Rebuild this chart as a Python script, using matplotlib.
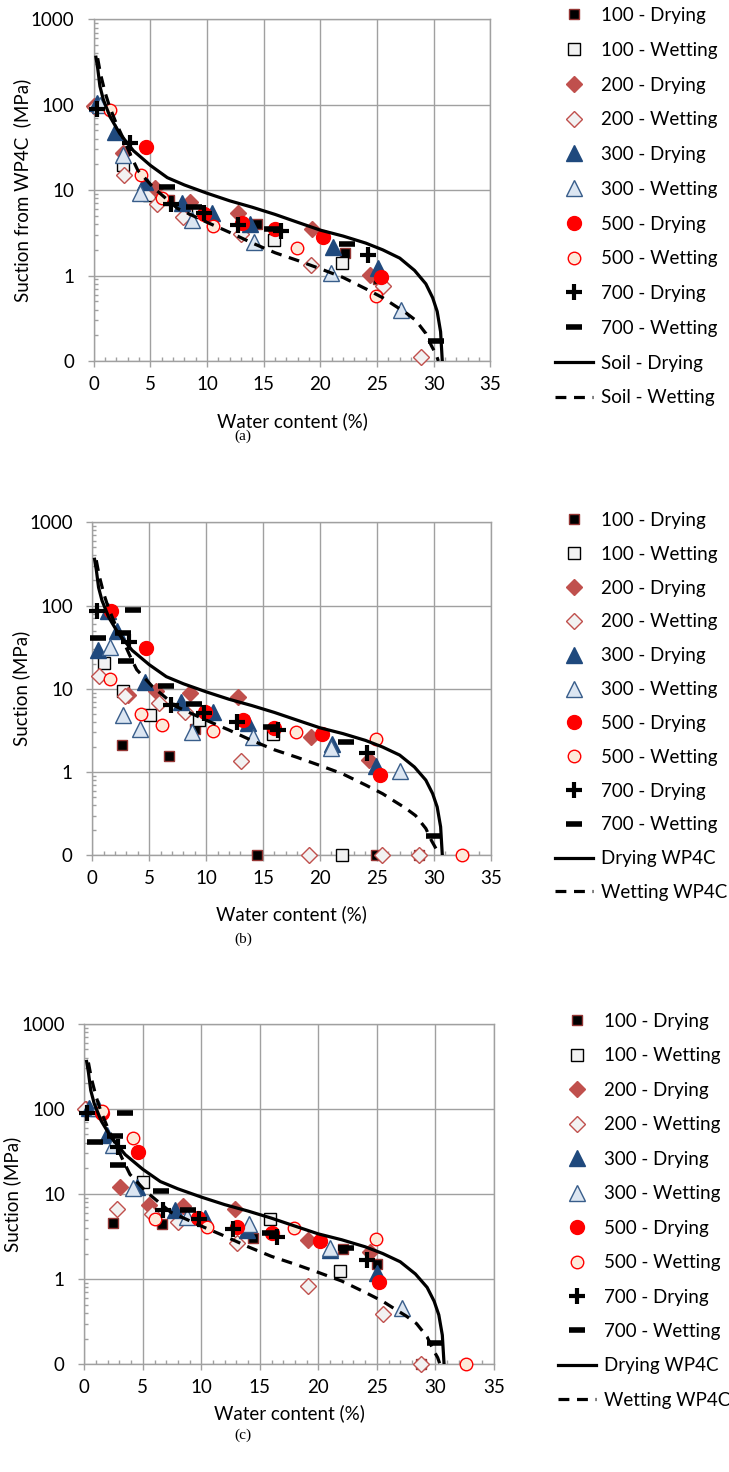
import matplotlib
matplotlib.use("Agg")
import matplotlib.pyplot as plt
from matplotlib.ticker import FixedLocator, LogLocator, FuncFormatter, NullFormatter, MultipleLocator

plt.rcParams['font.family'] = ['Lato', 'DejaVu Sans']

# ---- WP4C reference curves for the soil ----
soil_dry_w = [0.2, 0.35, 0.55, 0.85, 1.45, 2.3, 3.5, 5.0, 6.5, 8.0, 10.0, 12.0, 14.0, 16.0,
              18.0, 20.0, 22.0, 24.0, 25.5, 27.0, 28.3, 29.3, 29.9, 30.3, 30.6, 30.75]
soil_dry_s = [360, 270, 165, 115, 72, 46, 29, 19.5, 14, 11.5, 9.2, 7.5, 6.3, 5.2,
              4.2, 3.4, 2.9, 2.4, 2.0, 1.6, 1.15, 0.8, 0.55, 0.38, 0.22, 0.1]
soil_wet_w = [0.35, 0.6, 1.0, 1.4, 2.0, 2.7, 3.3, 3.9, 5.3, 7.4, 10.0, 12.0, 14.0, 16.0,
              18.0, 20.0, 22.0, 24.0, 25.5, 26.5, 27.5, 28.4, 29.3, 29.8, 30.2, 30.4]
soil_wet_s = [350, 230, 140, 95, 60, 38, 25, 17, 10.6, 6.1, 4.2, 3.2, 2.4, 1.85,
              1.5, 1.2, 0.95, 0.7, 0.55, 0.45, 0.37, 0.3, 0.21, 0.15, 0.12, 0.1]

series_names = ["100 - Drying", "100 - Wetting", "200 - Drying", "200 - Wetting",
                "300 - Drying", "300 - Wetting", "500 - Drying", "500 - Wetting",
                "700 - Drying", "700 - Wetting"]

# ---- Panel (a): suction from WP4C ----
a_100_dry_w = [6.6, 14.45, 22.13, 25.1]
a_100_dry_s = [7.6, 4.0, 1.86, 0.9]
a_100_wet_w = [2.57, 4.84, 9.2, 15.87, 21.92]
a_100_wet_s = [19.8, 8.8, 5.5, 2.6, 1.4]
a_200_dry_w = [0.05, 2.6, 5.4, 8.5, 12.7, 19.24, 24.35]
a_200_dry_s = [97, 27, 10.5, 7.2, 5.4, 3.5, 1.02]
a_200_wet_w = [0.1, 2.7, 5.6, 7.9, 13.0, 19.2, 25.5, 28.9]
a_200_wet_s = [95, 15, 6.9, 4.8, 3.1, 1.33, 0.75, 0.11]
a_300_dry_w = [0.27, 1.89, 4.55, 7.8, 10.46, 13.8, 21.1, 25.1]
a_300_dry_s = [104, 48, 12.6, 7.0, 5.4, 4.0, 2.15, 1.22]
a_300_wet_w = [0.56, 2.57, 4.1, 8.7, 14.1, 20.95, 27.15]
a_300_wet_s = [100, 26, 9.2, 4.5, 2.5, 1.07, 0.40]
a_500_dry_w = [4.6, 9.75, 13.1, 16.0, 20.25, 25.3]
a_500_dry_s = [32, 5.2, 4.1, 3.5, 2.85, 0.95]
a_500_wet_w = [1.45, 4.17, 6.0, 10.55, 17.93, 24.94]
a_500_wet_s = [87, 15, 8.1, 3.8, 2.13, 0.58]
a_700_dry_w = [0.32, 3.16, 6.8, 9.7, 12.73, 16.5, 24.2]
a_700_dry_s = [88, 36, 6.9, 5.4, 3.9, 3.3, 1.72]
a_700_wet_w = [6.47, 8.83, 15.7, 22.34, 30.17]
a_700_wet_s = [11, 6.4, 3.55, 2.35, 0.17]

# ---- Panel (b) ----
b_100_dry_w = [2.57, 6.71, 9.0, 14.44, 21.96, 24.88, 28.73]
b_100_dry_s = [2.12, 1.56, 3.3, 0.1, 0.1, 0.1, 0.1]
b_100_wet_w = [1.05, 2.71, 5.05, 9.36, 15.9, 21.91]
b_100_wet_s = [20.3, 9.3, 4.9, 4.2, 2.87, 0.1]
b_200_dry_w = [3.15, 5.63, 8.55, 12.77, 19.19, 24.3]
b_200_dry_s = [8.45, 9.3, 8.85, 8.07, 2.67, 1.4]
b_200_wet_w = [0.59, 2.86, 5.84, 8.11, 13.07, 19.05, 25.46, 28.73]
b_200_wet_s = [14.4, 8.1, 6.8, 5.3, 1.37, 0.1, 0.1, 0.1]
b_300_dry_w = [0.47, 1.4, 2.13, 4.61, 7.82, 10.59, 13.65, 21.03, 24.88]
b_300_dry_s = [29, 85, 49, 12.2, 7.0, 5.2, 3.9, 2.2, 1.19]
b_300_wet_w = [1.55, 2.71, 4.17, 8.78, 14.15, 20.94, 27.07]
b_300_wet_s = [32, 4.9, 3.27, 3.06, 2.67, 1.94, 1.03]
b_500_dry_w = [1.61, 4.7, 9.86, 13.21, 15.98, 20.16, 25.26]
b_500_dry_s = [87, 30.7, 5.3, 4.2, 3.37, 2.85, 0.92]
b_500_wet_w = [1.55, 4.32, 6.12, 10.59, 17.88, 24.88, 32.52]
b_500_wet_s = [13, 5.0, 3.7, 3.15, 3.0, 2.5, 0.1]
b_700_dry_w = [0.38, 3.24, 6.95, 9.77, 12.69, 16.3, 24.15]
b_700_dry_s = [87, 36, 6.4, 5.1, 4.0, 3.2, 1.7]
b_700_wet_w = [0.52, 2.66, 3.59, 2.95, 6.51, 8.9, 15.7, 22.26, 29.98]
b_700_wet_s = [41, 47, 88, 21.8, 10.8, 6.6, 3.46, 2.32, 0.17]

# ---- Panel (c) ----
c_100_dry_w = [2.48, 6.67, 14.44, 22.14, 25.04, 28.78]
c_100_dry_s = [4.6, 4.45, 3.02, 2.24, 1.5, 0.1]
c_100_wet_w = [4.99, 15.87, 21.85]
c_100_wet_s = [14, 5.05, 1.25]
c_200_dry_w = [0.15, 3.05, 5.53, 8.46, 12.88, 19.15, 24.42]
c_200_dry_s = [100, 12.2, 7.4, 7.2, 6.6, 2.9, 2.1]
c_200_wet_w = [0.1, 2.77, 5.76, 8.03, 13.08, 19.15, 25.5, 28.78]
c_200_wet_s = [100, 6.6, 5.9, 4.7, 2.64, 0.83, 0.39, 0.1]
c_300_dry_w = [0.43, 1.91, 4.48, 7.75, 10.32, 13.88, 21.0, 24.99]
c_300_dry_s = [101, 49, 12.2, 6.5, 5.2, 3.78, 2.2, 1.17]
c_300_wet_w = [1.2, 2.48, 4.19, 8.8, 14.1, 21.0, 27.13]
c_300_wet_s = [101, 37.6, 11.7, 5.3, 4.5, 2.3, 0.455]
c_500_dry_w = [1.49, 4.62, 9.74, 13.08, 16.02, 20.15, 25.21]
c_500_dry_s = [89, 31.4, 5.2, 4.13, 3.45, 2.83, 0.93]
c_500_wet_w = [1.49, 4.19, 6.04, 10.51, 17.92, 24.93, 32.62]
c_500_wet_s = [95, 45, 5.05, 4.13, 3.95, 3.0, 0.1]
c_700_dry_w = [0.26, 2.91, 6.75, 9.83, 12.74, 16.44, 24.14]
c_700_dry_s = [89, 36, 6.5, 5.05, 3.85, 3.15, 1.68]
c_700_wet_w = [0.91, 2.62, 3.48, 2.91, 6.53, 8.89, 15.87, 22.37, 29.97]
c_700_wet_s = [41, 48, 89, 21.9, 10.9, 6.5, 3.45, 2.3, 0.18]

panel_a = [(a_100_dry_w, a_100_dry_s), (a_100_wet_w, a_100_wet_s),
           (a_200_dry_w, a_200_dry_s), (a_200_wet_w, a_200_wet_s),
           (a_300_dry_w, a_300_dry_s), (a_300_wet_w, a_300_wet_s),
           (a_500_dry_w, a_500_dry_s), (a_500_wet_w, a_500_wet_s),
           (a_700_dry_w, a_700_dry_s), (a_700_wet_w, a_700_wet_s)]
panel_b = [(b_100_dry_w, b_100_dry_s), (b_100_wet_w, b_100_wet_s),
           (b_200_dry_w, b_200_dry_s), (b_200_wet_w, b_200_wet_s),
           (b_300_dry_w, b_300_dry_s), (b_300_wet_w, b_300_wet_s),
           (b_500_dry_w, b_500_dry_s), (b_500_wet_w, b_500_wet_s),
           (b_700_dry_w, b_700_dry_s), (b_700_wet_w, b_700_wet_s)]
panel_c = [(c_100_dry_w, c_100_dry_s), (c_100_wet_w, c_100_wet_s),
           (c_200_dry_w, c_200_dry_s), (c_200_wet_w, c_200_wet_s),
           (c_300_dry_w, c_300_dry_s), (c_300_wet_w, c_300_wet_s),
           (c_500_dry_w, c_500_dry_s), (c_500_wet_w, c_500_wet_s),
           (c_700_dry_w, c_700_dry_s), (c_700_wet_w, c_700_wet_s)]

# Marker styles, one per series
styles = [
    dict(marker='s', ms=7.5, mfc='black', mec='#943634', mew=1.0),
    dict(marker='s', ms=8, mfc='#F2F2F2', mec='black', mew=1.0),
    dict(marker='D', ms=8, mfc='#C0504D', mec='#C0504D', mew=1.0),
    dict(marker='D', ms=8.5, mfc='#F2F2F2', mec='#C0504D', mew=1.0),
    dict(marker='^', ms=11, mfc='#1F497D', mec='#1F497D', mew=1.0),
    dict(marker='^', ms=11, mfc='#DCE6F2', mec='#385D8A', mew=1.0),
    dict(marker='o', ms=10, mfc='#FF0000', mec='#FF0000', mew=1.0),
    dict(marker='o', ms=9, mfc='#FDEADA', mec='#FF0000', mew=1.0),
    dict(marker='+', ms=11, mfc='black', mec='black', mew=3.0),
    dict(marker='_', ms=11, mfc='black', mec='black', mew=4.0),
]

GRID = '#A0A0A0'
FS = 13.5


def draw_panel(ax, data, ylabel, curve_labels, ylabel_x, xlabel_y, legend_anchor, spacing):
    handles = []
    for (w, s), name, st in zip(data, series_names, styles):
        h, = ax.plot(w, s, ls='none', label=name, clip_on=False, zorder=3, **st)
        handles.append(h)
    h1, = ax.plot(soil_dry_w, soil_dry_s, color='black', lw=2.3, label=curve_labels[0],
                  zorder=4, solid_joinstyle='round')
    h2, = ax.plot(soil_wet_w, soil_wet_s, color='black', lw=2.3, ls=(0, (3.4, 2.4)),
                  label=curve_labels[1], zorder=4)
    handles += [h1, h2]

    ax.set_yscale('log')
    ax.set_xlim(0, 35)
    ax.set_ylim(0.1, 1000)
    ax.xaxis.set_major_locator(MultipleLocator(5))
    ax.xaxis.set_minor_locator(MultipleLocator(1))
    ax.yaxis.set_major_locator(FixedLocator([0.1, 1, 10, 100, 1000]))
    ax.yaxis.set_major_formatter(FuncFormatter(lambda v, p: f"{v:.0f}"))
    ax.yaxis.set_minor_locator(LogLocator(base=10, subs=range(2, 10)))
    ax.yaxis.set_minor_formatter(NullFormatter())
    ax.grid(True, which='major', color=GRID, lw=1.0)
    ax.set_axisbelow(True)
    for sp in ax.spines.values():
        sp.set_color(GRID)
        sp.set_linewidth(1.0)
    ax.tick_params(which='major', direction='out', length=4.5, width=1.0, color=GRID,
                   labelsize=FS, labelcolor='black')
    ax.tick_params(axis='y', which='major', pad=9.5)
    ax.tick_params(axis='x', which='major', pad=6)
    ax.tick_params(which='minor', direction='in', length=3, width=1.0, color=GRID)
    ax.set_xlabel("Water content (%)", fontsize=FS)
    ax.xaxis.set_label_coords(0.5, xlabel_y)
    ax.set_ylabel(ylabel, fontsize=FS)
    ax.yaxis.set_label_coords(ylabel_x, 0.5)

    fig.legend(handles=handles, loc='upper left', bbox_to_anchor=legend_anchor,
               bbox_transform=fig.transFigure, frameon=False, fontsize=FS,
               borderpad=0, borderaxespad=0, handlelength=2.05, handletextpad=0.38,
               labelspacing=spacing, numpoints=1)


fig = plt.figure(figsize=(7.29, 14.72), dpi=100)

ax_a = fig.add_axes([0.1285, 0.75476, 0.5443, 0.23213])
draw_panel(ax_a, panel_a, "Suction from WP4C  (MPa)", ["Soil - Drying", "Soil - Wetting"],
           -0.158, -0.150, (555 / 729, 1 - 7 / 1472), 0.947)

ax_b = fig.add_axes([0.12661, 0.41895, 0.5465, 0.22622])
draw_panel(ax_b, panel_b, "Suction (MPa)", ["Drying WP4C", "Wetting WP4C"],
           -0.155, -0.149, (555 / 729, 1 - 512 / 1472), 0.897)

ax_c = fig.add_axes([0.11564, 0.07317, 0.56173, 0.23139])
draw_panel(ax_c, panel_c, "Suction (MPa)", ["Drying WP4C", "Wetting WP4C"],
           -0.155, -0.117, (558 / 729, 1 - 1013 / 1472), 0.93)

for label, ypix in (("(a)", 436), ("(b)", 939), ("(c)", 1435)):
    fig.text(243 / 729, 1 - ypix / 1472, label, ha='center', va='center',
             fontsize=11, family=['Liberation Serif', 'DejaVu Serif'])

fig.savefig("out.png", dpi=100, facecolor='white')
